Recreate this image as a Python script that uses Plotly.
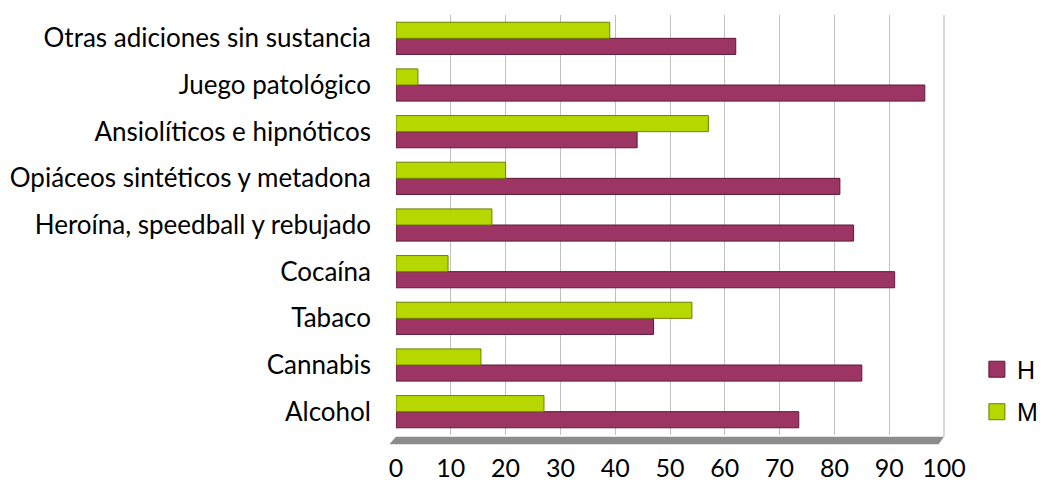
import plotly.graph_objects as go

categorias = [
    "Alcohol",
    "Cannabis",
    "Tabaco",
    "Cocaína",
    "Heroína, speedball y rebujado",
    "Opiáceos sintéticos y metadona",
    "Ansiolíticos e hipnóticos",
    "Juego patológico",
    "Otras adiciones sin sustancia",
]
valores_h = [73.5, 85, 47, 91, 83.5, 81, 44, 96.5, 62]
valores_m = [27, 15.5, 54, 9.5, 17.5, 20, 57, 4, 39]
ticks_x = [0, 10, 20, 30, 40, 50, 60, 70, 80, 90, 100]

COLOR_H = "#9C3464"
COLOR_M = "#B6D800"

fig = go.Figure()

fig.add_trace(
    go.Bar(
        y=categorias,
        x=valores_h,
        orientation="h",
        name="H",
        showlegend=False,
        marker=dict(color=COLOR_H, line=dict(color="#5E1838", width=1)),
    )
)
fig.add_trace(
    go.Bar(
        y=categorias,
        x=valores_m,
        orientation="h",
        name="M",
        showlegend=False,
        marker=dict(color=COLOR_M, line=dict(color="#6E8000", width=1)),
    )
)

# entradas de leyenda con cuadrados grandes
for nombre, color, borde in [("H", COLOR_H, "#5E1838"), ("M", COLOR_M, "#6E8000")]:
    fig.add_trace(
        go.Scatter(
            x=[None],
            y=[None],
            mode="markers",
            name=nombre,
            legendgroup=nombre,
            marker=dict(symbol="square", size=18, color=color, line=dict(color=borde, width=1)),
        )
    )

# suelo gris del grafico 3D
fig.add_shape(
    type="path",
    xref="paper",
    yref="paper",
    path="M -0.012,-0.022 L 0.99,-0.022 L 1.0,-0.004 L 0.0,-0.004 Z",
    fillcolor="#8C8C8C",
    line=dict(width=0),
    layer="below",
)

# la pagina tiene 8 px de margen en el body: se compensa en tamano y margenes
fig.update_layout(
    width=1042,
    height=476,
    barmode="group",
    bargap=0.31,
    bargroupgap=0,
    plot_bgcolor="white",
    paper_bgcolor="white",
    margin=dict(l=388, r=104, t=7, b=49),
    font=dict(family="Lato, Open Sans, sans-serif", size=25, color="black"),
    legend=dict(
        x=1.06,
        y=0.106,
        xanchor="left",
        yanchor="middle",
        traceorder="grouped",
        font=dict(family="Liberation Sans, Arial, sans-serif", size=25),
        itemwidth=30,
        tracegroupgap=7,
    ),
    showlegend=True,
)

fig.update_xaxes(
    range=[0, 100],
    tickvals=ticks_x,
    showgrid=True,
    gridcolor="#C0C0C0",
    gridwidth=1,
    zeroline=False,
    showline=False,
    ticks="",
    ticklabelstandoff=16,
    tickfont=dict(size=25),
    automargin=False,
    fixedrange=True,
)
fig.update_yaxes(
    categoryorder="array",
    categoryarray=categorias,
    range=[-0.5, 8.5],
    showgrid=False,
    zeroline=False,
    showline=False,
    ticks="",
    ticklabelstandoff=24,
    tickfont=dict(size=26),
    automargin=False,
    fixedrange=True,
)

# borde derecho de la pared
fig.add_shape(
    type="line",
    xref="paper",
    yref="paper",
    x0=1, x1=1, y0=-0.004, y1=1,
    line=dict(color="#B0B0B0", width=1),
)

fig.write_html("out.html")
